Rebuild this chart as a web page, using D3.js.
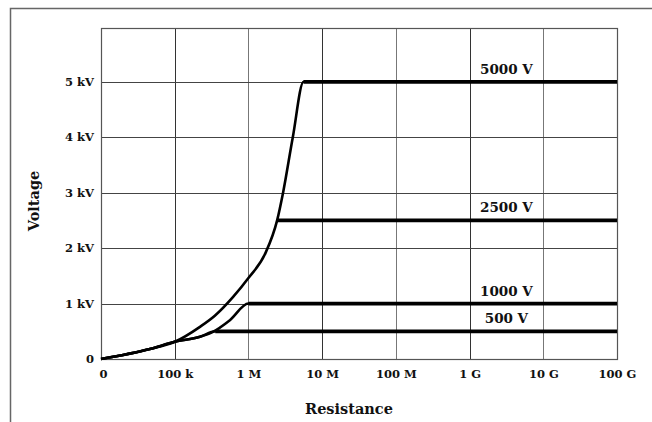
<!DOCTYPE html>
<html>
<head>
<meta charset="utf-8">
<script src="https://cdn.jsdelivr.net/npm/d3@7"></script>
<style>
  body { margin: 0; background: #fff; }
  text { font-family: "DejaVu Serif", "Liberation Serif", serif; font-weight: bold; fill: #111; }
</style>
</head>
<body>
<div id="chart"></div>
<script>
// tick values / labels
var xTicks = [1e4, 1e5, 1e6, 1e7, 1e8, 1e9, 1e10, 1e11],
    xTickLabels = ["0", "100 k", "1 M", "10 M", "100 M", "1 G", "10 G", "100 G"],
    yTicks = [0, 1, 2, 3, 4, 5],
    yTickLabels = ["0", "1 kV", "2 kV", "3 kV", "4 kV", "5 kV"];

// series: resistance (ohm) and voltage (kV); first point stands for R = 0
var r5000 = [1e4, 4.6e4, 1e5, 2.2e5, 3.5e5, 6.2e5, 1e6, 1.7e6, 2.45e6, 2.95e6, 4e6, 5.6e6, 1e11],
    v5000 = [0, 0.18, 0.31, 0.58, 0.78, 1.12, 1.46, 1.91, 2.5, 3.0, 4.0, 5.0, 5.0];
var r2500 = [2.45e6, 1e11],
    v2500 = [2.5, 2.5];
var r1000 = [1e4, 4.6e4, 1e5, 2.2e5, 3.2e5, 5.6e5, 1e6, 1e11],
    v1000 = [0, 0.18, 0.31, 0.4, 0.48, 0.7, 1.0, 1.0];
var r500 = [1e4, 4.6e4, 1e5, 2.2e5, 3.55e5, 1e11],
    v500 = [0, 0.18, 0.31, 0.4, 0.5, 0.5];
var seriesNames = ["5000 V", "2500 V", "1000 V", "500 V"];

var width = 652, height = 422,
    pLeft = 101, pRight = 617, pTop = 28, pBottom = 359;

var svg = d3.select("#chart").append("svg")
  .attr("width", width)
  .attr("height", height);

// outer frame (top + left edge only visible)
svg.append("path")
  .attr("d", "M10.5,422V8.5H652")
  .attr("fill", "none")
  .attr("stroke", "#666")
  .attr("stroke-width", 1.5);

var x = d3.scaleLog().domain([1e4, 1e11]).range([pLeft, pRight]);
var y = d3.scaleLinear().domain([0, 5.97]).range([pBottom, pTop]);

// grid
svg.selectAll(".vgrid").data(xTicks.slice(1, -1)).enter().append("line")
  .attr("x1", function(d) { return Math.round(x(d)) + 0.5; })
  .attr("x2", function(d) { return Math.round(x(d)) + 0.5; })
  .attr("y1", pTop).attr("y2", pBottom)
  .attr("stroke", function(d, i) { return i % 2 ? "#777" : "#333"; })
  .attr("stroke-width", 1);

svg.selectAll(".hgrid").data(yTicks.slice(1)).enter().append("line")
  .attr("x1", pLeft).attr("x2", pRight)
  .attr("y1", function(d) { return Math.round(y(d)) + 0.5; })
  .attr("y2", function(d) { return Math.round(y(d)) + 0.5; })
  .attr("stroke", "#444")
  .attr("stroke-width", 1);

svg.append("rect")
  .attr("x", pLeft + 0.5).attr("y", pTop + 0.5)
  .attr("width", pRight - pLeft).attr("height", pBottom - pTop)
  .attr("fill", "none")
  .attr("stroke", "#555")
  .attr("stroke-width", 1.2);

// axes
var xAxis = d3.axisBottom(x)
  .tickValues(xTicks)
  .tickSize(0)
  .tickPadding(11)
  .tickFormat(function(d, i) { return xTickLabels[i]; });
var gx = svg.append("g").attr("transform", "translate(0," + pBottom + ")").call(xAxis);
gx.select(".domain").remove();
gx.selectAll("text").attr("font-size", 11.5);
gx.attr("font-family", null);
gx.selectAll(".tick").filter(function(d, i) { return i === 0; })
  .select("text").attr("dx", 2);

var yAxis = d3.axisLeft(y)
  .tickValues(yTicks)
  .tickSize(0)
  .tickPadding(7)
  .tickFormat(function(d, i) { return yTickLabels[i]; });
var gy = svg.append("g").attr("transform", "translate(" + pLeft + ",0)").call(yAxis);
gy.select(".domain").remove();
gy.selectAll("text").attr("font-size", 11.5);
gy.attr("font-family", null);

// curves
var line = d3.line()
  .x(function(d) { return x(d[0]); })
  .y(function(d) { return y(d[1]); })
  .curve(d3.curveMonotoneX);

var series = [[r5000, v5000], [r2500, v2500], [r1000, v1000], [r500, v500]].map(function(s) {
  return d3.zip(s[0], s[1]);
});

svg.selectAll(".curve").data(series).enter().append("path")
  .attr("d", line)
  .attr("fill", "none")
  .attr("stroke", "#000")
  .attr("stroke-width", 2.6)
  .attr("stroke-linejoin", "round");

// thicker plateau segments
var flat = d3.line()
  .x(function(p) { return x(p[0]); })
  .y(function(p) { return y(p[1]); });
svg.selectAll(".plateau").data(series).enter().append("path")
  .attr("d", function(d) { return flat(d.slice(-2)); })
  .attr("fill", "none")
  .attr("stroke", "#000")
  .attr("stroke-width", 3.8);

// series labels
svg.selectAll(".lbl").data(series).enter().append("text")
  .attr("x", (x(1e9) + x(1e10)) / 2)
  .attr("y", function(d) { return y(d[d.length - 1][1]) - 8; })
  .attr("text-anchor", "middle")
  .attr("font-size", 13.5)
  .text(function(d, i) { return seriesNames[i]; });

// axis titles
svg.append("text")
  .attr("transform", "translate(39," + 201 + ") rotate(-90)")
  .attr("text-anchor", "middle")
  .attr("font-size", 14.5)
  .text("Voltage");

svg.append("text")
  .attr("x", 349)
  .attr("y", 414)
  .attr("text-anchor", "middle")
  .attr("font-size", 14.5)
  .text("Resistance");
</script>
</body>
</html>
